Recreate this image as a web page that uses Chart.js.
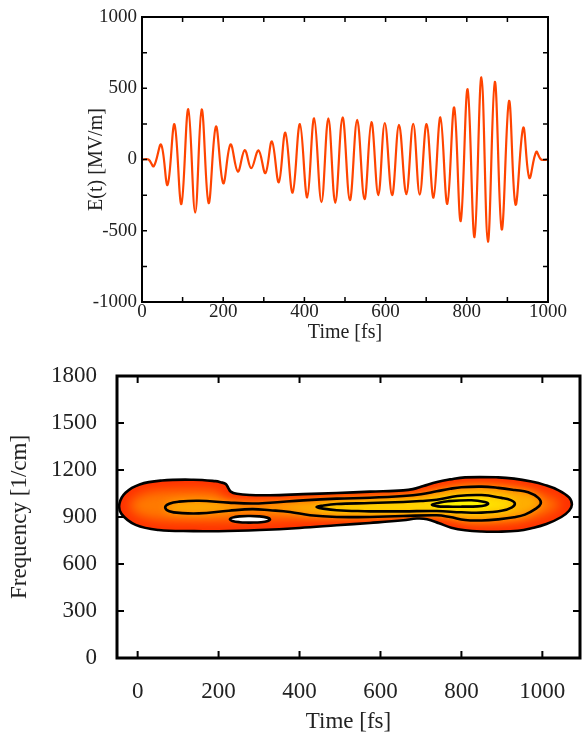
<!DOCTYPE html>
<html>
<head>
<meta charset="utf-8">
<script src="https://cdn.jsdelivr.net/npm/chart.js@4/dist/chart.umd.min.js"></script>
<style>
  html, body { margin: 0; padding: 0; background: #fff; }
  #fieldBox { position: absolute; left: 0; top: 0; width: 585px; height: 345px; }
  #specBox { position: absolute; left: 0; top: 345px; width: 585px; height: 389px; }
</style>
</head>
<body>
<div id="fieldBox"><canvas id="fieldChart"></canvas></div>
<div id="specBox"><canvas id="specChart"></canvas></div>
<script>
// ---- Electric field of the pulse: extrema of E(t) ----
const timeFs = [0, 16, 29, 47, 63, 80, 97, 114, 131, 147, 164, 182, 200, 218, 236, 253, 269, 287, 304, 320,
  337, 353, 371, 389, 407, 424, 442, 459, 476, 494, 512, 530, 548, 565, 582, 598, 616, 633, 651, 668,
  684, 701, 718, 735, 752, 769, 785, 802, 819, 836, 852, 869, 886, 904, 920, 939, 954, 971, 983, 1000];
const fieldMVm = [0, 0, -47, 104, -179, 247, -313, 353, -372, 351, -306, 231, -167, 106, -85, 66, -61, 64, -96, 127,
  -160, 188, -233, 249, -266, 289, -299, 289, -304, 295, -286, 279, -279, 263, -251, 256, -251, 244, -244, 251,
  -246, 249, -268, 296, -312, 366, -432, 493, -545, 577, -577, 545, -491, 411, -317, 223, -129, 54, 0, 0];

const fieldTimeTicks = [0, 200, 400, 600, 800, 1000];
const fieldValueTicks = [-1000, -500, 0, 500, 1000];
const fieldTimeMarks = [100, 200, 300, 400, 500, 600, 700, 800, 900];
const fieldValueMarks = [-750, -500, -250, 0, 250, 500, 750];

// ---- Time-frequency map: contour lines (time in fs, frequency in 1/cm) ----
const level1Time = [492, 574, 656, 690, 715, 745, 775, 809, 850, 891, 940, 973, 1010, 1047, 1066, 1073, 1066, 1039, 1005, 973,
  930, 891, 809, 772, 740, 706, 680, 656, 574, 492, 409, 327, 278, 245, 230, 224, 218, 205, 192, 138,
  60, 5, -30, -45, -40, -5, 52, 138, 200, 302, 400, 492];
const level1Freq = [847, 862, 879, 890, 886, 860, 832, 815, 807, 806, 812, 828, 855, 900, 940, 980, 1025, 1072, 1105, 1126,
  1145, 1153, 1153, 1140, 1124, 1098, 1078, 1070, 1062, 1053, 1046, 1039, 1040, 1048, 1062, 1085, 1110, 1122, 1129, 1138,
  1133, 1108, 1055, 985, 920, 850, 817, 810, 809, 817, 830, 847];

const level2Time = [574, 656, 739, 772, 809, 850, 891, 930, 957, 982, 996, 990, 965, 932, 891, 850, 800, 772, 739, 700,
  656, 574, 492, 409, 327, 283, 225, 151, 102, 78, 68, 78, 110, 151, 225, 283, 327, 377, 426, 492, 574];
const level2Freq = [900, 906, 911, 900, 881, 878, 885, 898, 915, 950, 985, 1022, 1058, 1072, 1086, 1094, 1090, 1080, 1064, 1045,
  1034, 1023, 1017, 1006, 991, 986, 992, 1004, 998, 985, 962, 937, 925, 923, 940, 950, 943, 932, 911, 900, 900];

const level3Time = [574, 656, 739, 800, 850, 899, 925, 932, 922, 899, 850, 790, 739, 700, 656, 574, 492, 455, 442, 455, 492, 574];
const level3Freq = [936, 936, 938, 930, 928, 940, 962, 987, 1008, 1022, 1040, 1034, 1010, 1002, 996, 989, 983, 972, 964, 955, 943, 936];

const level4Time = [800, 840, 860, 866, 858, 825, 767, 742, 727, 742, 767, 800];
const level4Freq = [966, 968, 975, 985, 996, 1007, 1001, 990, 978, 968, 966, 966];

const dipTime = [276, 305, 322, 327, 320, 300, 276, 252, 234, 228, 234, 252, 276];
const dipFreq = [864, 867, 875, 885, 896, 904, 906, 904, 896, 885, 875, 867, 864];

const specTimeTicks = [0, 200, 400, 600, 800, 1000];
const specFreqTicks = [0, 300, 600, 900, 1200, 1500, 1800];

const FONT = "'Liberation Serif', 'Times New Roman', serif";
const INK = '#222';

const pairs = (xs, ys) => xs.map((x, i) => ({ x, y: ys[i] }));
const plain = v => String(v);

// Frame and inward tick marks on all four sides
const frameTicks = {
  id: 'frameTicks',
  afterDraw(chart, args, o) {
    const { ctx, chartArea: a, scales: { x, y } } = chart;
    ctx.save();
    ctx.strokeStyle = '#000';
    ctx.lineWidth = o.tickWidth;
    ctx.beginPath();
    o.xMarks.forEach(v => {
      const px = x.getPixelForValue(v);
      ctx.moveTo(px, a.bottom); ctx.lineTo(px, a.bottom - o.len);
      ctx.moveTo(px, a.top); ctx.lineTo(px, a.top + o.len);
    });
    o.yMarks.forEach(v => {
      const py = y.getPixelForValue(v);
      ctx.moveTo(a.left, py); ctx.lineTo(a.left + o.len, py);
      ctx.moveTo(a.right, py); ctx.lineTo(a.right - o.len, py);
    });
    ctx.stroke();
    ctx.lineWidth = o.frameWidth;
    ctx.strokeRect(a.left, a.top, a.right - a.left, a.bottom - a.top);
    ctx.restore();
  }
};

// Colour shading between the contour lines of the spectrogram
const contourShade = {
  id: 'contourShade',
  beforeDatasetsDraw(chart, args, o) {
    const ctx = chart.ctx;
    const area = chart.chartArea;
    const lines = chart.data.datasets.map((d, i) => {
      const el = chart.getDatasetMeta(i).dataset;
      el.updateControlPoints(area, 'x');
      return el;
    });
    const trace = el => { ctx.beginPath(); el.path(ctx); ctx.closePath(); };
    ctx.save();
    trace(lines[0]);
    ctx.fillStyle = o.base;
    ctx.fill();
    ctx.clip();
    ctx.filter = 'blur(' + o.rimBlur + 'px)';
    trace(lines[0]);
    ctx.lineWidth = o.rimWidth;
    ctx.strokeStyle = o.rim;
    ctx.stroke();
    o.levels.forEach(lv => {
      ctx.filter = 'blur(' + lv.blur + 'px)';
      trace(lines[lv.index]);
      ctx.fillStyle = lv.color;
      ctx.fill();
    });
    ctx.filter = 'none';
    trace(lines[o.holeIndex]);
    ctx.fillStyle = '#fff';
    ctx.fill();
    ctx.restore();
  }
};

const fixTicks = values => scale => { scale.ticks = values.map(v => ({ value: v })); };
const fitBox = (prop, size) => scale => {
  scale[prop] = size;
  scale.paddingLeft = 0; scale.paddingRight = 0; scale.paddingTop = 0; scale.paddingBottom = 0;
};

// ---- Top: E(t) ----
new Chart(document.getElementById('fieldChart'), {
  type: 'line',
  data: {
    datasets: [{
      data: pairs(timeFs, fieldMVm),
      borderColor: '#ff4400',
      borderWidth: 2.2,
      pointRadius: 0,
      tension: 0.38,
      fill: false
    }]
  },
  options: {
    responsive: true,
    maintainAspectRatio: false,
    animation: false,
    devicePixelRatio: 1,
    layout: { padding: { left: 0, top: 17, right: 37, bottom: 0 } },
    plugins: {
      legend: { display: false },
      tooltip: { enabled: false },
      frameTicks: { xMarks: fieldTimeMarks, yMarks: fieldValueMarks, len: 5, tickWidth: 1.5, frameWidth: 2 }
    },
    scales: {
      x: {
        type: 'linear', min: 0, max: 1000,
        grid: { display: false, drawTicks: false },
        border: { display: false },
        afterBuildTicks: fixTicks(fieldTimeTicks),
        afterFit: fitBox('height', 43),
        ticks: { padding: 1, color: INK, maxRotation: 0, callback: plain, font: { family: FONT, size: 19, lineHeight: 1 } },
        title: { display: true, text: 'Time [fs]', color: INK, padding: { top: 0, bottom: 2 }, font: { family: FONT, size: 20, lineHeight: 1 } }
      },
      y: {
        min: -1000, max: 1000,
        grid: { display: false, drawTicks: false },
        border: { display: false },
        afterBuildTicks: fixTicks(fieldValueTicks),
        afterFit: fitBox('width', 142),
        ticks: { padding: 5, color: INK, callback: plain, font: { family: FONT, size: 19, lineHeight: 1 } },
        title: { display: true, text: 'E(t) [MV/m]', color: INK, padding: { top: 87, bottom: 0 }, font: { family: FONT, size: 20, lineHeight: 1 } }
      }
    }
  },
  plugins: [frameTicks]
});

// ---- Bottom: time-frequency contour map ----
const contourStyle = { borderColor: '#000', borderWidth: 2.6, pointRadius: 0, tension: 0.4, fill: false };
new Chart(document.getElementById('specChart'), {
  type: 'line',
  data: {
    datasets: [
      Object.assign({ data: pairs(level1Time, level1Freq) }, contourStyle),
      Object.assign({ data: pairs(level2Time, level2Freq) }, contourStyle),
      Object.assign({ data: pairs(level3Time, level3Freq) }, contourStyle),
      Object.assign({ data: pairs(level4Time, level4Freq) }, contourStyle),
      Object.assign({ data: pairs(dipTime, dipFreq) }, contourStyle)
    ]
  },
  options: {
    responsive: true,
    maintainAspectRatio: false,
    animation: false,
    devicePixelRatio: 1,
    layout: { padding: { left: 0, top: 31, right: 5, bottom: 0 } },
    plugins: {
      legend: { display: false },
      tooltip: { enabled: false },
      frameTicks: { xMarks: specTimeTicks, yMarks: specFreqTicks, len: 7, tickWidth: 2, frameWidth: 3 },
      contourShade: {
        base: '#ff7a00', rim: '#ff3000', rimWidth: 20, rimBlur: 6,
        levels: [
          { index: 1, color: '#ffae00', blur: 5 },
          { index: 2, color: '#ffe000', blur: 4 },
          { index: 3, color: '#ffff00', blur: 3 }
        ],
        holeIndex: 4
      }
    },
    scales: {
      x: {
        type: 'linear', min: -51, max: 1093,
        grid: { display: false, drawTicks: false },
        border: { display: false },
        afterBuildTicks: fixTicks(specTimeTicks),
        afterFit: fitBox('height', 76),
        ticks: { padding: 22, color: INK, maxRotation: 0, callback: plain, font: { family: FONT, size: 23, lineHeight: 1 } },
        title: { display: true, text: 'Time [fs]', color: INK, padding: { top: 0, bottom: 1 }, font: { family: FONT, size: 23, lineHeight: 1 } }
      },
      y: {
        min: 0, max: 1800,
        grid: { display: false, drawTicks: false },
        border: { display: false },
        afterBuildTicks: fixTicks(specFreqTicks),
        afterFit: fitBox('width', 117),
        ticks: { padding: 20, color: INK, callback: plain, font: { family: FONT, size: 23, lineHeight: 1 } },
        title: { display: true, text: 'Frequency [1/cm]', color: INK, padding: { top: 8, bottom: 0 }, font: { family: FONT, size: 23, lineHeight: 1 } }
      }
    }
  },
  plugins: [contourShade, frameTicks]
});
</script>
</body>
</html>
